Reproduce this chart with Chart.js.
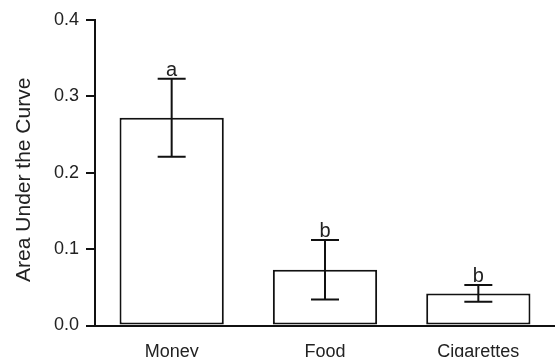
<!DOCTYPE html>
<html>
<head>
<meta charset="utf-8">
<script src="https://cdn.jsdelivr.net/npm/chart.js@4/dist/chart.umd.min.js"></script>
<style>
  html, body { margin: 0; padding: 0; background: #fff; }
  #wrap { width: 555px; height: 357px; position: relative; }
</style>
</head>
<body>
<div id="wrap"><canvas id="c" width="555" height="357"></canvas></div>
<script>
// Reinforcer type and mean area under the discounting curve
const categories = ['Money', 'Food', 'Cigarettes'];
const auc = [0.272, 0.073, 0.042];
const aucSem = [0.051, 0.039, 0.011];
// Letters marking groups that differ significantly
const groupLetters = ['a', 'b', 'b'];
const yTicks = [0.0, 0.1, 0.2, 0.3, 0.4];
const yTitle = 'Area Under the Curve';

const INK = '#111';
const TEXT = '#222';
const FONT = "'Liberation Sans', Arial, sans-serif";

// Error bars with caps and significance letters above each bar
const errorBars = {
  id: 'errorBars',
  afterDatasetsDraw(chart) {
    const { ctx, scales: { y } } = chart;
    const meta = chart.getDatasetMeta(0);
    const capHalf = 14;
    ctx.save();
    ctx.strokeStyle = INK;
    ctx.lineWidth = 2;
    meta.data.forEach((bar, i) => {
      const x = bar.x;
      const hi = y.getPixelForValue(auc[i] + aucSem[i]);
      const lo = y.getPixelForValue(auc[i] - aucSem[i]);
      ctx.beginPath();
      ctx.moveTo(x, lo); ctx.lineTo(x, hi);
      ctx.moveTo(x - capHalf, hi); ctx.lineTo(x + capHalf, hi);
      ctx.moveTo(x - capHalf, lo); ctx.lineTo(x + capHalf, lo);
      ctx.stroke();
      ctx.fillStyle = TEXT;
      ctx.font = '20px ' + FONT;
      ctx.textAlign = 'center';
      ctx.textBaseline = 'alphabetic';
      ctx.fillText(groupLetters[i], x, hi - 3);
    });
    ctx.restore();
  }
};

// Vertical axis title, centred a little below the middle of the plot
const yAxisTitle = {
  id: 'yAxisTitle',
  afterDraw(chart) {
    const { ctx, chartArea } = chart;
    const cy = (chartArea.top + chartArea.bottom) / 2 + 7;
    ctx.save();
    ctx.translate(24, cy);
    ctx.rotate(-Math.PI / 2);
    ctx.fillStyle = TEXT;
    ctx.font = '21px ' + FONT;
    ctx.textAlign = 'center';
    ctx.textBaseline = 'middle';
    ctx.fillText(yTitle, 0, 0);
    ctx.restore();
  }
};

new Chart(document.getElementById('c'), {
  type: 'bar',
  data: {
    labels: categories,
    datasets: [{
      data: auc,
      backgroundColor: '#fff',
      borderColor: INK,
      borderWidth: 2,
      borderSkipped: false,
      barPercentage: 0.68,
      categoryPercentage: 1.0
    }]
  },
  options: {
    responsive: false,
    animation: false,
    devicePixelRatio: 1,
    layout: { padding: { top: 20, right: 0, left: 0, bottom: 0 } },
    plugins: { legend: { display: false }, tooltip: { enabled: false } },
    scales: {
      x: {
        offset: true,
        grid: { display: false },
        border: { display: true, color: INK, width: 2 },
        ticks: { color: TEXT, font: { family: FONT, size: 18 }, padding: 8, maxRotation: 0 },
        afterFit(scale) { scale.height = 31.5; }
      },
      y: {
        min: 0,
        max: 0.4,
        afterBuildTicks(scale) { scale.ticks = yTicks.map(v => ({ value: v })); },
        grid: { drawOnChartArea: false, drawTicks: true, tickLength: 9, color: INK, lineWidth: 2 },
        border: { display: true, color: INK, width: 2 },
        ticks: {
          color: TEXT,
          font: { family: FONT, size: 18 },
          padding: 7,
          callback: v => Number(v).toFixed(1)
        },
        afterFit(scale) { scale.width = 95; }
      }
    }
  },
  plugins: [errorBars, yAxisTitle]
});
</script>
</body>
</html>
